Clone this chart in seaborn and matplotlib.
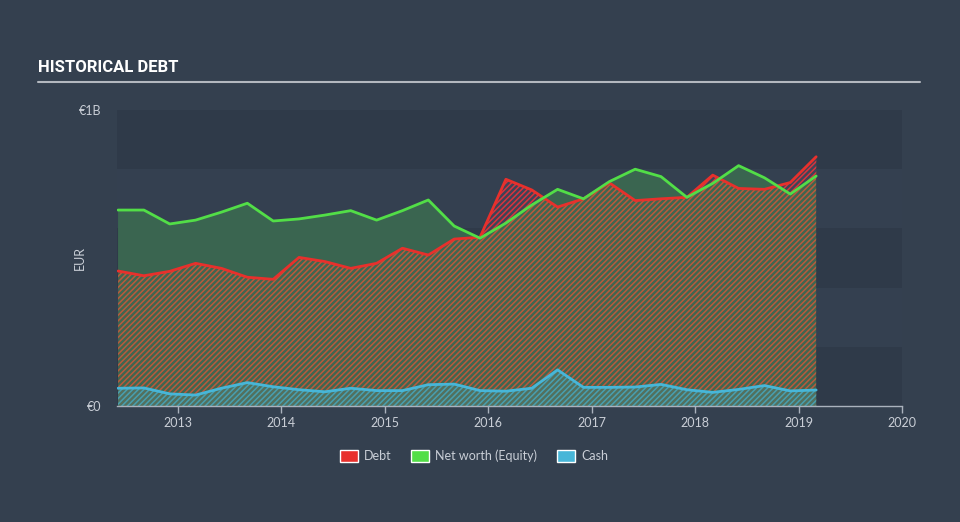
import matplotlib
matplotlib.use("Agg")
import matplotlib.pyplot as plt
import seaborn as sns
import numpy as np
import pandas as pd
from matplotlib.patches import Patch

# ---- data (EUR billions), quarterly ----
dates = [2012.42, 2012.67, 2012.92, 2013.17, 2013.42, 2013.67, 2013.92, 2014.17,
         2014.42, 2014.67, 2014.92, 2015.17, 2015.42, 2015.67, 2015.92, 2016.17,
         2016.42, 2016.67, 2016.92, 2017.17, 2017.42, 2017.67, 2017.92, 2018.17,
         2018.42, 2018.67, 2018.92, 2019.17]
debt = [0.456, 0.440, 0.455, 0.482, 0.465, 0.435, 0.428, 0.502,
        0.488, 0.465, 0.482, 0.533, 0.510, 0.564, 0.570, 0.766,
        0.730, 0.672, 0.700, 0.754, 0.694, 0.700, 0.705, 0.780,
        0.735, 0.732, 0.755, 0.842]
equity = [0.662, 0.662, 0.615, 0.628, 0.655, 0.685, 0.625, 0.632,
          0.645, 0.660, 0.628, 0.660, 0.696, 0.608, 0.567, 0.618,
          0.679, 0.732, 0.700, 0.758, 0.800, 0.775, 0.705, 0.752,
          0.812, 0.771, 0.716, 0.777]
cash = [0.060, 0.061, 0.041, 0.037, 0.060, 0.079, 0.065, 0.055,
        0.048, 0.060, 0.052, 0.052, 0.072, 0.074, 0.052, 0.050,
        0.060, 0.122, 0.063, 0.063, 0.064, 0.073, 0.055, 0.046,
        0.056, 0.069, 0.051, 0.054]
year_ticks = [2013, 2014, 2015, 2016, 2017, 2018, 2019, 2020]
series_names = ["Debt", "Net worth (Equity)", "Cash"]

BG = "#34404f"
DEBT_C = "#e8302c"
EQ_C = "#52de47"
CASH_C = "#47b6d8"
TXT = "#c9ced6"

sns.set_theme(style="white")
plt.rcParams["font.family"] = ["Lato", "DejaVu Sans"]
plt.rcParams["hatch.linewidth"] = 1.1

fig = plt.figure(figsize=(9.6, 5.22), dpi=100, facecolor=BG)
ax = fig.add_axes([117/960, 1-406/522, (902-117)/960, (406-110)/522])
ax.set_facecolor(BG)

# alternating bands
for i, lo in enumerate(np.arange(0, 1.0, 0.2)):
    ax.axhspan(lo, lo+0.2, color="#2f3a49" if i % 2 == 0 else "#344050", lw=0, zorder=0)

x = np.array(dates)
d = np.array(debt)
e = np.array(equity)
c = np.array(cash)

# debt area (hatched)
ax.fill_between(x, 0, d, facecolor="#3f6650", edgecolor="#b95a3c", hatch="//////", lw=0, zorder=1)
# equity above debt
ax.fill_between(x, d, e, where=e >= d, interpolate=True, facecolor="#3a6550", lw=0, zorder=1)
# debt above equity
ax.fill_between(x, e, d, where=d > e, interpolate=True, facecolor="#3e4356", edgecolor="#d8343e",
                hatch="//////", lw=0, zorder=1)
# cash area
ax.fill_between(x, 0, c, facecolor="#52705e", edgecolor="#489fb0", hatch="//////", lw=0, zorder=2)

df = pd.DataFrame({
    "date": list(dates) * 3,
    "value": list(debt) + list(equity) + list(cash),
    "series": [series_names[0]] * len(dates) + [series_names[1]] * len(dates) + [series_names[2]] * len(dates),
})
sns.lineplot(data=df, x="date", y="value", hue="series", palette=[DEBT_C, EQ_C, CASH_C],
             linewidth=2, ax=ax, legend=False, zorder=3)

ax.set_xlim(2012.41, 2020.0)
ax.set_ylim(0, 1.0)
ax.set_xticks(year_ticks)
ax.set_xticklabels([str(y) for y in year_ticks], color=TXT, fontsize=9)
ax.set_yticks([0, 1.0])
ax.set_yticklabels(["€0", "€1B"], color=TXT, fontsize=9)
ax.tick_params(axis="x", length=5, width=1, color="#aab2bd", pad=3, bottom=True)
ax.tick_params(axis="y", length=0, pad=11)
ax.set_xlabel("")
ax.set_ylabel("EUR", color=TXT, fontsize=9)
ax.yaxis.set_label_coords(-31/785, 0.5)
for s in ["top", "left", "right"]:
    ax.spines[s].set_visible(False)
ax.spines["bottom"].set_color("#aab2bd")
ax.spines["bottom"].set_linewidth(1)

# title & rule
fig.text(38/960, 1-68/522, "HISTORICAL DEBT", color="white", fontsize=12, fontweight="bold",
         family=["Roboto", "DejaVu Sans"], va="center", ha="left")
fig.add_artist(plt.Line2D([38/960, 920/960], [1-82/522, 1-82/522], color="#b3b8bf", lw=1.5))

handles = [Patch(facecolor=DEBT_C, label=series_names[0]),
           Patch(facecolor=EQ_C, label=series_names[1]),
           Patch(facecolor=CASH_C, label=series_names[2])]
fig.legend(handles=handles, loc="center", bbox_to_anchor=(474/960, 1-456/522), ncol=3,
           frameon=False, fontsize=9, labelcolor=TXT, handlelength=1.4, handleheight=1.1,
           columnspacing=1.6, handletextpad=0.5)

fig.savefig("out.png", dpi=100, facecolor=BG)
